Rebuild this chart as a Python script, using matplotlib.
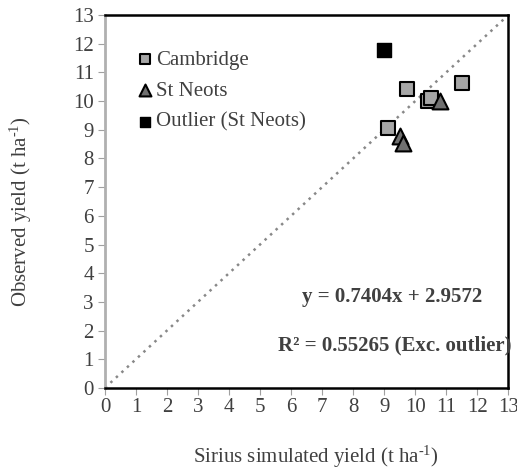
import matplotlib
matplotlib.use("Agg")
import matplotlib.pyplot as plt
import numpy as np

plt.rcParams['font.family'] = ['Liberation Serif', 'DejaVu Serif']
plt.rcParams['mathtext.fontset'] = 'custom'
plt.rcParams['mathtext.rm'] = 'Liberation Serif'
plt.rcParams['mathtext.it'] = 'Liberation Serif:italic'
plt.rcParams['mathtext.bf'] = 'Liberation Serif:bold'

cambridge_x = [9.73, 11.52, 10.43, 10.50, 9.12]
cambridge_y = [10.42, 10.65, 10.00, 10.12, 9.05]
stneots_x = [10.80, 9.50, 9.60]
stneots_y = [10.00, 8.80, 8.55]
outlier_x = [9.00]
outlier_y = [11.80]
ticks = list(range(0, 14))

fig = plt.figure(figsize=(5.17, 4.73), dpi=100)
ax = fig.add_axes([0.203, 0.180, 0.780, 0.788])

ax.plot([0, 13], [0, 13], linestyle=(0, (1, 2)), color='#888888', lw=1.8, zorder=1)
ax.scatter(cambridge_x, cambridge_y, marker='s', s=110, facecolor='#a6a6a6',
           edgecolor='black', linewidth=1.5, label='Cambridge', zorder=3)
ax.scatter(stneots_x, stneots_y, marker='^', s=130, facecolor='#707070',
           edgecolor='black', linewidth=1.5, label='St Neots', zorder=3)
ax.scatter(outlier_x, outlier_y, marker='s', s=110, facecolor='black',
           edgecolor='black', linewidth=1.0, label='Outlier (St Neots)', zorder=3)

ax.set_xlim(0, 13)
ax.set_ylim(0, 13)
ax.set_xticks(ticks)
ax.set_yticks(ticks)
ax.tick_params(direction='out', length=5, color='#a0a0a0', labelsize=15,
               labelcolor='#404040')
ax.tick_params(axis='x', pad=2)
ax.tick_params(axis='y', pad=3)

for s in ['top', 'right', 'bottom']:
    ax.spines[s].set_color('black')
    ax.spines[s].set_linewidth(1.8)
ax.spines['left'].set_color('#b0b0b0')
ax.spines['left'].set_linewidth(2.0)

ax.set_xlabel(r'Sirius simulated yield (t ha$^{\text{-1}}$)', fontsize=15, color='#404040')
ax.set_ylabel(r'Observed yield (t ha$^{\text{-1}}$)', fontsize=15, color='#404040')
ax.xaxis.label.set_va('center')
ax.yaxis.label.set_va('center')
ax.xaxis.set_label_coords(0.524, -0.185)
ax.yaxis.set_label_coords(-0.208, 0.472)

leg = ax.legend(loc='upper left', bbox_to_anchor=(0.055, 0.928), frameon=False,
                fontsize=15, handletextpad=0.1, labelspacing=0.55, markerscale=0.75,
                borderaxespad=0.0, handlelength=0.9)
for t in leg.get_texts():
    t.set_color('#404040')

ax.text(0.712, 0.244, 'y = 0.7404x + 2.9572', transform=ax.transAxes, ha='center',
        va='center', fontsize=15, fontweight='bold', color='#404040')
ax.text(1.008, 0.115, 'R² = 0.55265 (Exc. outlier)', transform=ax.transAxes, ha='right',
        va='center', fontsize=15, fontweight='bold', color='#404040', clip_on=False)

fig.savefig('out.png', dpi=100)
